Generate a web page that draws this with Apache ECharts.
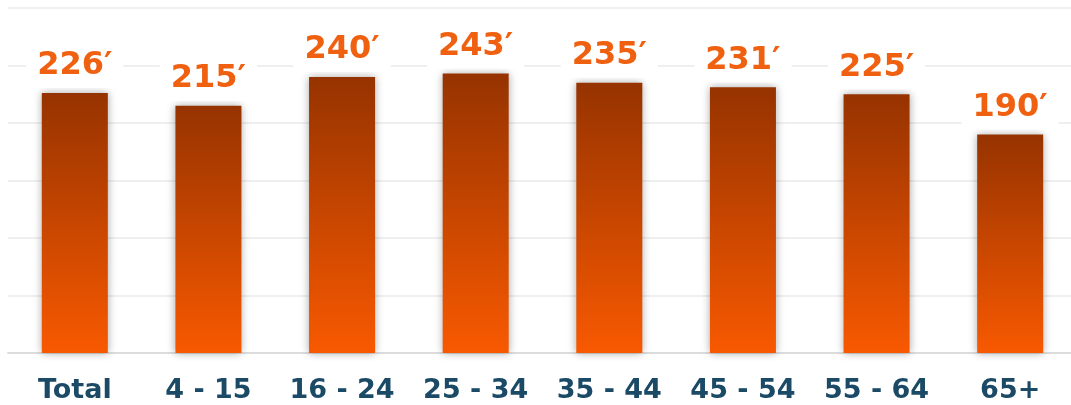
<!DOCTYPE html>
<html>
<head>
<meta charset="utf-8">
<script src="https://cdn.jsdelivr.net/npm/echarts@6/dist/echarts.min.js"></script>
<style>
  html, body { margin: 0; padding: 0; background: #fff; overflow: hidden; }
  #main { width: 1077px; height: 405px; }
</style>
</head>
<body>
<div id="main"></div>
<script>
// age groups
const categories = ['Total', '4 - 15', '16 - 24', '25 - 34', '35 - 44', '45 - 54', '55 - 64', '65+']
// minutes per day (shown as 226′ etc.)
const values = [226, 215, 240, 243, 235, 231, 225, 190]

const chart = echarts.init(document.getElementById('main'))

const option = {
  animation: false,
  grid: {
    left: 8,
    right: 0,
    top: 8,
    bottom: 52,
    containLabel: false
  },
  xAxis: {
    type: 'category',
    data: categories,
    axisTick: { show: false },
    axisLine: { lineStyle: { color: '#dcdcdc', width: 2 } },
    axisLabel: {
      interval: 0,
      margin: 24,
      fontFamily: 'DejaVu Sans',
      fontWeight: 'bold',
      fontSize: 27,
      color: '#1b4a66'
    }
  },
  yAxis: {
    type: 'value',
    min: 0,
    max: 300,
    interval: 50,
    axisLabel: { show: false },
    axisLine: { show: false },
    axisTick: { show: false },
    splitLine: { lineStyle: { color: '#efefef', width: 2 } }
  },
  series: [
    {
      type: 'bar',
      data: values,
      barWidth: '49.4%',
      itemStyle: {
        color: new echarts.graphic.LinearGradient(0, 0, 0, 1, [
          { offset: 0, color: '#963300' },
          { offset: 1, color: '#f85900' }
        ]),
        shadowBlur: 8,
        shadowColor: 'rgba(0, 0, 0, 0.35)',
        shadowOffsetX: 0
      },
      label: {
        show: true,
        position: 'top',
        distance: 5,
        formatter: '{c}\u2032',
        fontFamily: 'DejaVu Sans',
        fontWeight: 'bold',
        fontSize: 32,
        color: '#ef6010',
        backgroundColor: '#fff',
        padding: [6, 11, 6, 11]
      }
    }
  ]
}

chart.setOption(option)
</script>
</body>
</html>
